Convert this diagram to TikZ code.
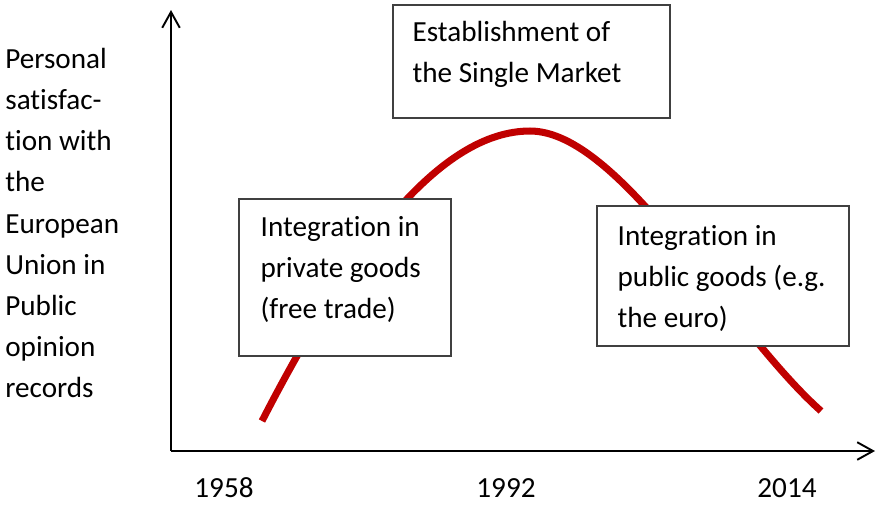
\documentclass[tikz,border=0pt]{standalone}
\usepackage{fontspec}
\setmainfont{Carlito}[RawFeature={-liga;-clig;-calt;-dlig}]
\usetikzlibrary{arrows.meta}
\definecolor{curvered}{HTML}{C00000}
\definecolor{framegray}{HTML}{404040}
\begin{document}
\begin{tikzpicture}[x=0.02cm,y=-0.02cm,
    every node/.style={font=\fontsize{16.6}{23.3}\selectfont},
    axis/.style={line width=1.1pt,-{Straight Barb[length=9pt,width=10pt,line width=1.1pt]}},
    frame/.style={draw=framegray,line width=0.8pt,fill=white,inner sep=0pt},
    boxtext/.style={anchor=north west,align=left,inner sep=0pt},
    year/.style={inner sep=0pt}]
    \useasboundingbox (0,0) rectangle (878,505);
    % axes
    \coordinate (origin) at (171,451);
    \coordinate (ytip) at (171,10);
    \coordinate (xtip) at (875,451);
    \draw[axis] (origin) -- (ytip);
    \draw[axis] (origin) -- (xtip);
    % satisfaction curve
    \draw[curvered,line width=4pt] (262,421) .. controls (350,250) and (440,131) .. (530,131)
        .. controls (620,131) and (730,330) .. (821,411);
    % boxes
    \node[frame,minimum width=277*0.02cm,minimum height=113*0.02cm] (single) at (531.5,61.5) {};
    \node[frame,minimum width=212*0.02cm,minimum height=157*0.02cm] (private) at (345,277.5) {};
    \node[frame,minimum width=252*0.02cm,minimum height=140*0.02cm] (public) at (723,276) {};
    \node[boxtext] (singletext) at ([shift={(20,17)}]single.north west)
        {Establishment of\\the Single Market};
    \node[boxtext] (privatetext) at ([shift={(22,18)}]private.north west)
        {Integration in\\private goods\\(free trade)};
    \node[boxtext] (publictext) at ([shift={(21,20)}]public.north west)
        {Integration in\\public goods (e.g.\\the euro)};
    % y label
    \node[boxtext,font=\fontsize{16.6}{23.4}\selectfont] (ylabel) at (5,48)
        {Personal\\satisfac-\\tion with\\the\\European\\Union in\\Public\\opinion\\records};
    % years
    \node[year] (y1958) at (224,488) {1958};
    \node[year] (y1992) at (506,488) {1992};
    \node[year] (y2014) at (787,488) {2014};
\end{tikzpicture}
\end{document}
